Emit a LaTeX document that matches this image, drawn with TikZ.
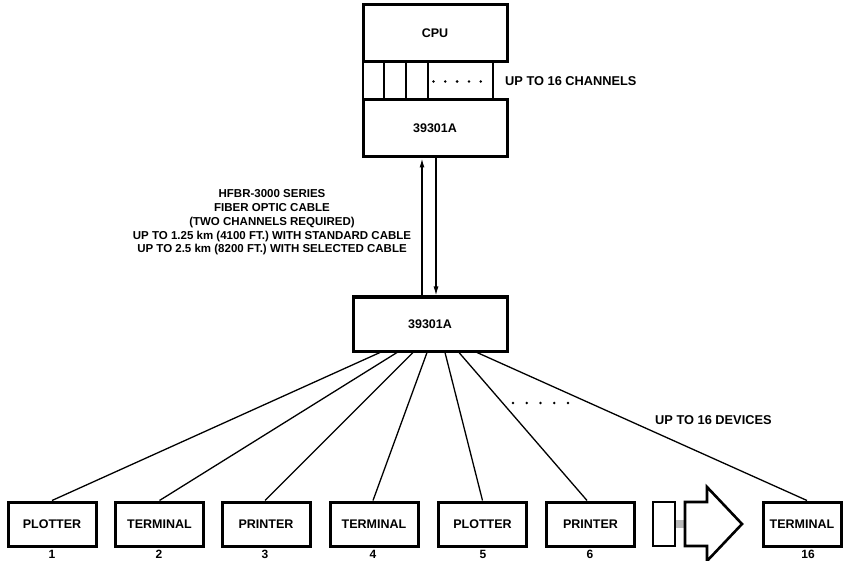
\documentclass[tikz,border=0pt]{standalone}
\usepackage{fontspec}
\setmainfont{Liberation Sans}
\usetikzlibrary{arrows.meta,calc}
\begin{document}
\begin{tikzpicture}[x=1pt,y=-1pt,
  unit/.style={draw, line width=3pt, inner sep=0pt, font=\fontsize{12.5}{14}\selectfont\bfseries},
  dev/.style={unit, minimum width=88pt, minimum height=44pt},
  wire/.style={line width=1.3pt},
  strip/.style={line width=1.5pt},
  lbl/.style={font=\fontsize{12.5}{14}\selectfont\bfseries, inner sep=0pt},
  num/.style={font=\fontsize{12}{13}\selectfont\bfseries, inner sep=0pt},
  tip/.style={-{Latex[length=9pt,width=5pt]}},
  dot/.style={fill=black}
]
\useasboundingbox (0,0) rectangle (843,561);
\fill[white] (0,0) rectangle (843,561);

% host computer and its multiplexer
\node[unit, minimum width=144pt, minimum height=57pt] (cpu) at (435,33.5) {CPU};
\node[unit, minimum width=144pt, minimum height=57pt] (mux) at (435,128.5) {39301A};

% channel strip between CPU and multiplexer
\foreach \dx [count=\k] in {0,21,43,65,130} {
  \coordinate (ch\k) at ($(cpu.south west)+(\dx+1.5,0)$);
  \draw[strip] (ch\k) -- (ch\k |- mux.north);
}
\foreach \i in {0,...,4}
  \fill[dot] ($(cpu.south west)+(72+11.8*\i,18)$) circle (1.4pt);
\node[lbl, anchor=west, font=\fontsize{12.8}{14}\selectfont\bfseries] (chan) at (505,81) {UP TO 16 CHANNELS};

% remote multiplexer
\node[unit, minimum width=154pt, minimum height=54pt] (hub) at (430,324) {39301A};

% fiber optic link, one channel each way
\coordinate (fa) at ($(mux.south)+(-13,0)$);
\coordinate (fb) at ($(mux.south)+(1,0)$);
\draw[wire, tip] (fa |- hub.north) -- (fa);
\draw[wire, tip] (fb) -- (fb |- hub.north);
\node[lbl, align=center, font=\fontsize{11.5}{13.75}\selectfont\bfseries] (fiber) at (272,222.5)
  {HFBR-3000 SERIES\\FIBER OPTIC CABLE\\(TWO CHANNELS REQUIRED)\\UP TO 1.25 km (4100 FT.) WITH STANDARD CABLE\\UP TO 2.5 km (8200 FT.) WITH SELECTED CABLE};

% devices
\node[dev] (d1) at (52,524) {PLOTTER};
\node[dev] (d2) at (159.5,524) {TERMINAL};
\node[dev] (d3) at (266,524) {PRINTER};
\node[dev] (d4) at (374,524) {TERMINAL};
\node[dev] (d5) at (482.5,524) {PLOTTER};
\node[dev] (d6) at (590.5,524) {PRINTER};
\node[dev, minimum width=78pt] (d16) at (802,524) {TERMINAL};

\node[num] (n1) at (52,554.5) {1};
\node[num] (n2) at (159,554.5) {2};
\node[num] (n3) at (265,554.5) {3};
\node[num] (n4) at (373,554.5) {4};
\node[num] (n5) at (483,554.5) {5};
\node[num] (n6) at (590,554.5) {6};
\node[num] (n16) at (808,554.5) {16};

% device cables
\draw[wire] ([xshift=-50pt]hub.south) -- (d1.north);
\draw[wire] ([xshift=-33pt]hub.south) -- (d2.north);
\draw[wire] ([xshift=-17pt]hub.south) -- ([xshift=-1pt]d3.north);
\draw[wire] ([xshift=-3pt]hub.south) -- ([xshift=-1pt]d4.north);
\draw[wire] ([xshift=15pt]hub.south) -- (d5.north);
\draw[wire] ([xshift=29pt]hub.south) -- ([xshift=-3.5pt]d6.north);
\draw[wire] ([xshift=47pt]hub.south) -- ([xshift=5pt]d16.north);

\foreach \i in {0,...,4}
  \fill[dot] (513+13.75*\i,403) circle (1.4pt);
\node[lbl, anchor=west, font=\fontsize{12.8}{14}\selectfont\bfseries] (devs) at (655,420) {UP TO 16 DEVICES};

% continuation marker
\node[draw, line width=2.6pt, minimum width=22pt, minimum height=44pt, inner sep=0pt] (gap) at (664,524) {};
\node[fill=gray!55, minimum width=9pt, minimum height=8pt, inner sep=0pt] (hatch) at (680,523.5) {};
\draw[line width=2.6pt, line join=miter]
  (685,502) -- (707,502) -- (707,487) -- (742,524) -- (707,561) -- (707,546) -- (685,546) -- cycle;
\end{tikzpicture}
\end{document}
